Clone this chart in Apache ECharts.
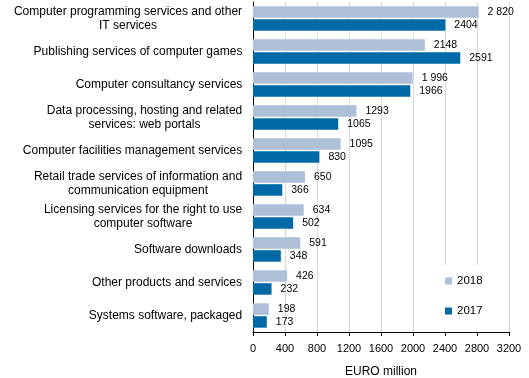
<!DOCTYPE html>
<html>
<head>
<meta charset="utf-8">
<script src="https://cdn.jsdelivr.net/npm/echarts@6/dist/echarts.min.js"></script>
<style>
html,body{margin:0;padding:0;background:#fff;}
#chart{width:529px;height:378px;}
</style>
</head>
<body>
<div id="chart"></div>
<script>
var categories = [
  'Computer programming services and other IT services',
  'Publishing services of computer games',
  'Computer consultancy services',
  'Data processing, hosting and related services: web portals',
  'Computer facilities management services',
  'Retail trade services of information and communication equipment',
  'Licensing services for the right to use computer software',
  'Software downloads',
  'Other products and services',
  'Systems software, packaged'
];
var values2018 = [2820, 2148, 1996, 1293, 1095, 650, 634, 591, 426, 198];
var values2017 = [2404, 2591, 1966, 1065, 830, 366, 502, 348, 232, 173];
var labels2018 = ['2 820', '2148', '1 996', '1293', '1095', '650', '634', '591', '426', '198'];
var labels2017 = ['2404', '2591', '1966', '1065', '830', '366', '502', '348', '232', '173'];
var seriesNames = ['2018', '2017'];
var axisName = 'EURO million';

var FONT = '"Liberation Sans", Arial, sans-serif';
var CAT_FONT_SIZE = 12;
var WRAP_WIDTH = 232;

// word-wrap category labels; lines centred within the block, block right-aligned
var measureCtx = document.createElement('canvas').getContext('2d');
measureCtx.font = CAT_FONT_SIZE + 'px ' + FONT;
function wrap(text) {
  var words = text.split(' ');
  var lines = [];
  var cur = '';
  words.forEach(function (w) {
    var test = cur ? cur + ' ' + w : w;
    if (cur && measureCtx.measureText(test).width > WRAP_WIDTH) {
      lines.push(cur);
      cur = w;
    } else {
      cur = test;
    }
  });
  if (cur) lines.push(cur);
  return lines;
}
var richStyles = {};
var catLabelMap = {};
categories.forEach(function (c, i) {
  var lines = wrap(c);
  var w = 0;
  lines.forEach(function (l) { w = Math.max(w, measureCtx.measureText(l).width); });
  richStyles['c' + i] = {
    width: Math.ceil(w) + 1,
    align: 'center',
    fontFamily: FONT,
    fontSize: CAT_FONT_SIZE,
    lineHeight: 14,
    color: '#000'
  };
  catLabelMap[c] = lines.map(function (l) { return '{c' + i + '|' + l + '}'; }).join('\n');
});

var chart = echarts.init(document.getElementById('chart'), null, {renderer: 'canvas'});

function labelCfg(arr) {
  return {
    show: true,
    position: 'right',
    distance: 9,
    fontFamily: FONT,
    fontSize: 10.5,
    color: '#000',
    formatter: function (p) { return arr[p.dataIndex]; }
  };
}

chart.setOption({
  animation: false,
  backgroundColor: '#fff',
  grid: {left: 253, right: 20, top: 2, bottom: 46, containLabel: false, outerBoundsMode: 'none'},
  legend: {
    orient: 'vertical',
    left: 425,
    top: 265,
    padding: [9, 10, 14, 20],
    backgroundColor: '#fff',
    itemWidth: 7,
    itemHeight: 7,
    itemGap: 16,
    icon: 'rect',
    textStyle: {fontFamily: FONT, fontSize: 11.5, color: '#000', lineHeight: 14},
    data: seriesNames
  },
  xAxis: {
    type: 'value',
    min: 0,
    max: 3200,
    interval: 400,
    name: axisName,
    nameLocation: 'middle',
    nameGap: 34,
    nameTextStyle: {fontFamily: FONT, fontSize: 12, color: '#000'},
    axisLine: {show: true, lineStyle: {color: '#000', width: 1}},
    axisTick: {show: true, length: 4, lineStyle: {color: '#000'}},
    axisLabel: {
      fontFamily: FONT, fontSize: 11, color: '#000', margin: 11,
      formatter: function (v) { return String(v); }
    },
    splitLine: {show: true, lineStyle: {color: '#d9d9d9', width: 1}}
  },
  yAxis: {
    type: 'category',
    inverse: true,
    data: categories,
    axisLine: {show: true, lineStyle: {color: '#000', width: 1}},
    axisTick: {show: false},
    axisLabel: {
      fontFamily: FONT,
      fontSize: CAT_FONT_SIZE,
      color: '#000',
      margin: 10,
      lineHeight: 14,
      align: 'right',
      formatter: function (v) { return catLabelMap[v]; },
      rich: richStyles
    },
    splitLine: {show: false}
  },
  series: [
    {
      name: seriesNames[0],
      type: 'bar',
      data: values2018,
      barCategoryGap: '26%',
      barGap: '12%',
      itemStyle: {color: '#aebfd8'},
      label: labelCfg(labels2018)
    },
    {
      name: seriesNames[1],
      type: 'bar',
      data: values2017,
      barCategoryGap: '26%',
      barGap: '12%',
      itemStyle: {color: '#006aa7'},
      label: labelCfg(labels2017)
    }
  ]
});
</script>
</body>
</html>
